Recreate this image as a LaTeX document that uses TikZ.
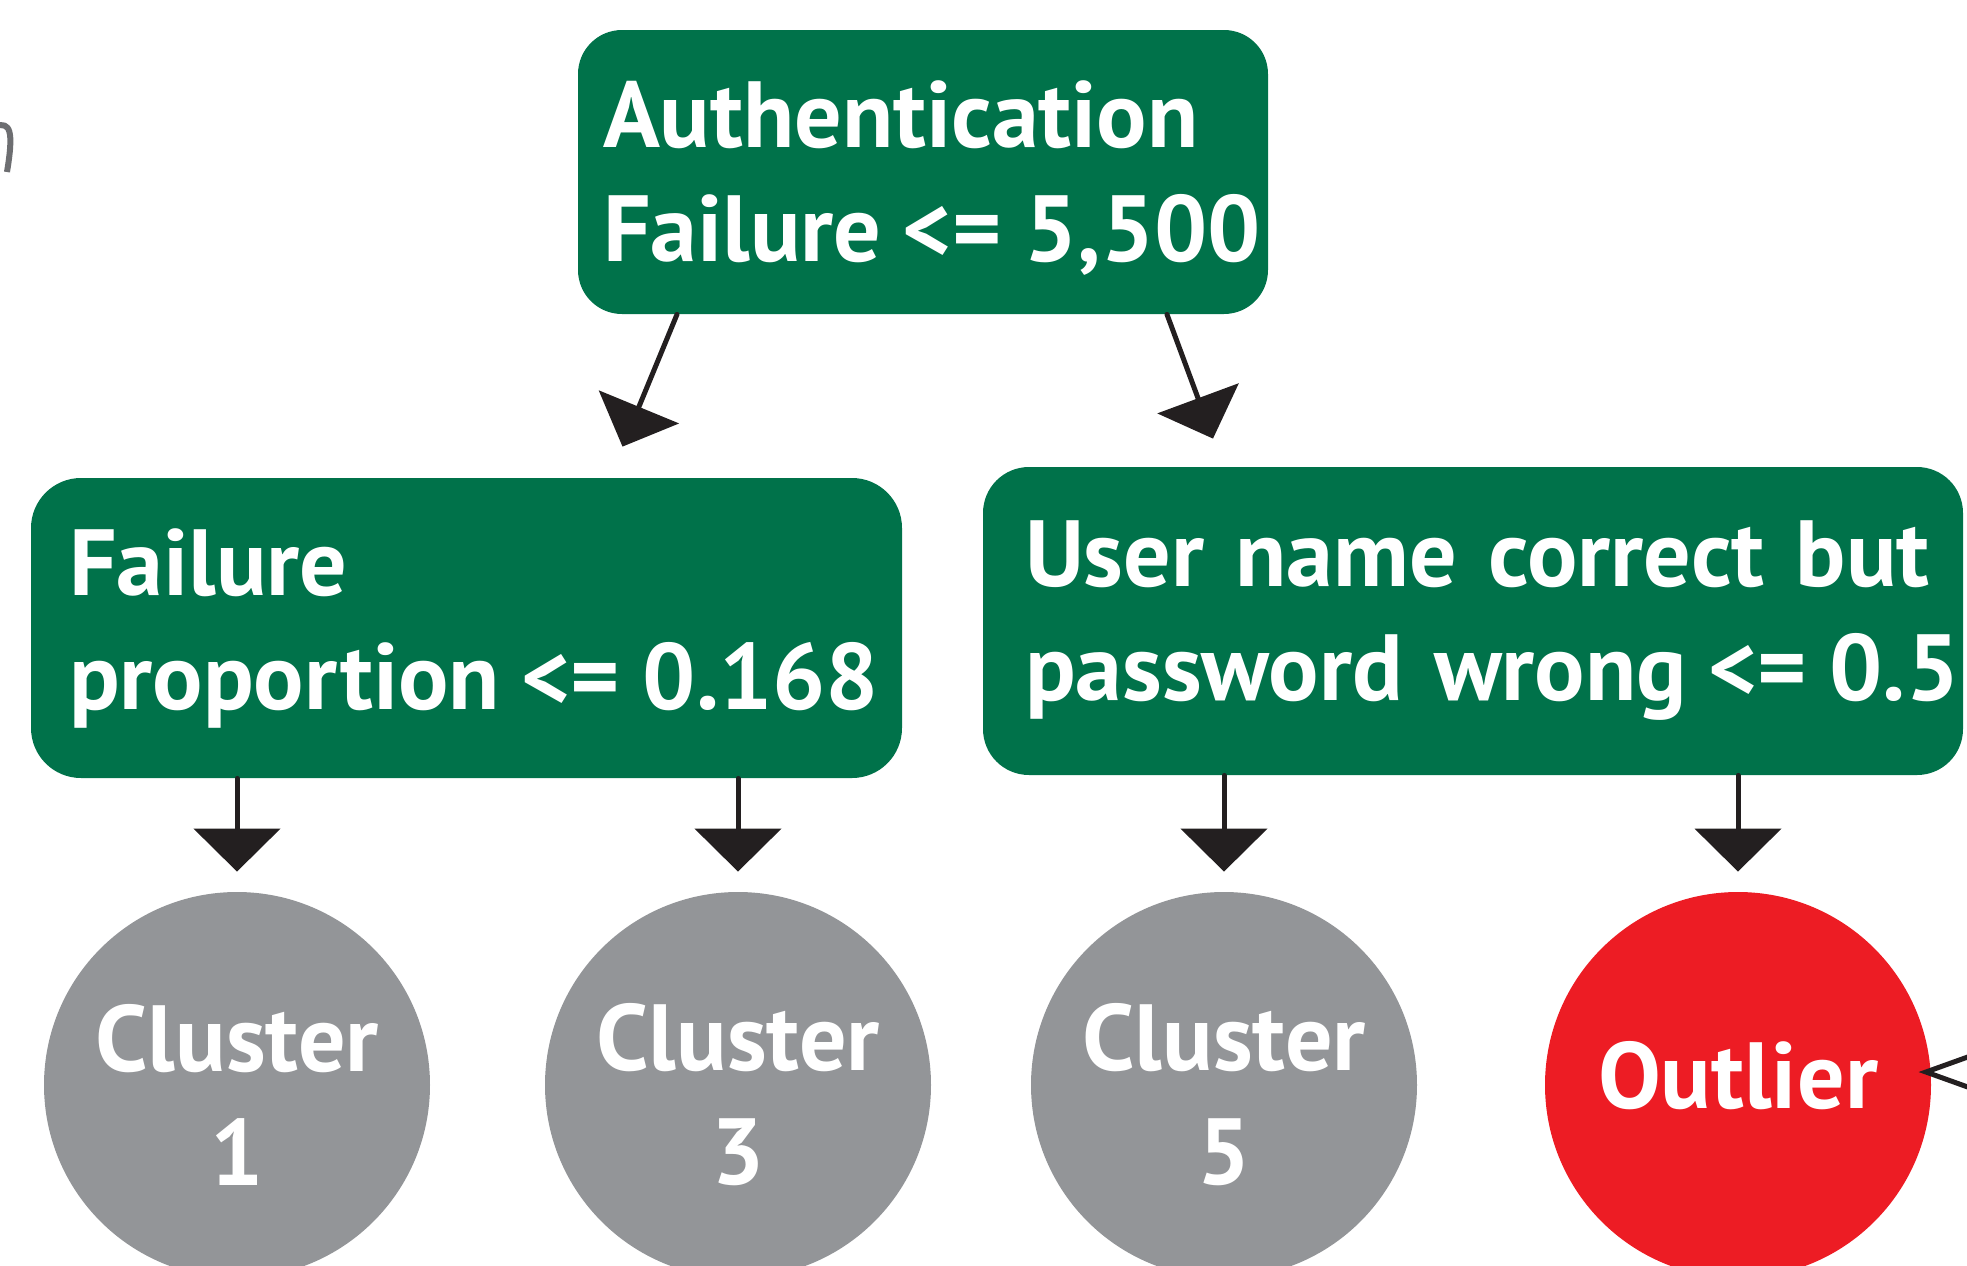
\documentclass[tikz,border=0pt]{standalone}
\usepackage{fontspec}
\setmainfont{PT Sans}
\usetikzlibrary{arrows.meta}
\definecolor{boxgreen}{HTML}{00724A}
\definecolor{clustergray}{HTML}{939598}
\definecolor{outlierred}{HTML}{ED1C24}
\definecolor{arrowblack}{HTML}{231F20}
\definecolor{fraggray}{HTML}{6D6E71}
\newcommand{\lift}[1]{\rule{0pt}{#1}}
\newcommand{\lte}{\kern-5pt<=\kern-4.5pt}
\begin{document}
\begin{tikzpicture}[x=0.5pt,y=-0.5pt,line cap=round,line join=round,
	font=\fontsize{47}{57}\selectfont\bfseries,
	decision/.style={fill=boxgreen,text=white,align=left,inner ysep=0pt},
	leaf/.style={circle,minimum size=193pt,inner sep=0pt,text=white,align=center},
	flow/.style={draw=arrowblack,line width=2.5pt,-{Triangle[length=21.5pt,width=43pt]}},
	hint/.style={draw=arrowblack,line width=2.5pt,-{Triangle[open,length=40pt,width=28pt]}}]
	\useasboundingbox (0,0) rectangle (1967,1265);
	\clip (0,0) rectangle (1967,1265);
	% fragment of a cut-off label
	\draw[fraggray,line width=3pt,line cap=butt] (-4,126) .. controls (10,122) and (14,130) .. (7,172);
	% decision boxes
	\node[decision,rounded corners=22pt,minimum width=345pt,minimum height=142pt,
		text width=320pt,inner xsep=12.5pt] (auth) at (923,172)
		{\lift{39pt}\mbox{Authentication}\\\mbox{Failure \lte{} 5,500}};
	\node[decision,rounded corners=25pt,minimum width=435.5pt,minimum height=150pt,
		text width=397.5pt,inner xsep=19pt] (fail) at (466.5,628)
		{\mbox{Failure}\\\mbox{proportion \lte{} 0.168}};
	\node[decision,rounded corners=23pt,minimum width=490pt,minimum height=154pt,
		text width=448pt,inner xsep=21pt] (user) at (1473,621)
		{\mbox{User name correct but}\\\mbox{password wrong \lte{} 0.5}};
	% leaves
	\node[leaf,fill=clustergray] (c1) at (237,1085) {\lift{43pt}Cluster\\1};
	\node[leaf,fill=clustergray] (c3) at (738,1085) {\lift{43pt}Cluster\\3};
	\node[leaf,fill=clustergray] (c5) at (1224,1085) {\lift{43pt}Cluster\\5};
	\node[leaf,fill=outlierred,text depth=10pt] (out) at (1738,1085) {Outlier};
	% arrows
	\draw[flow] ([xshift=-123pt]auth.south) -- ([xshift=78pt,yshift=15.5pt]fail.north);
	\draw[flow] ([xshift=122pt]auth.south) -- ([xshift=-130pt,yshift=14pt]user.north);
	\draw[flow,shorten >=10pt] (fail.south -| c1) -- (c1.north);
	\draw[flow,shorten >=10pt] (fail.south -| c3) -- (c3.north);
	\draw[flow,shorten >=10pt] (user.south -| c5) -- (c5.north);
	\draw[flow,shorten >=10pt] (user.south -| out) -- (out.north);
	\draw[hint] ([xshift=60pt,yshift=6.5pt]out.east) -- ([xshift=-6.5pt,yshift=6.5pt]out.east);
\end{tikzpicture}
\end{document}
